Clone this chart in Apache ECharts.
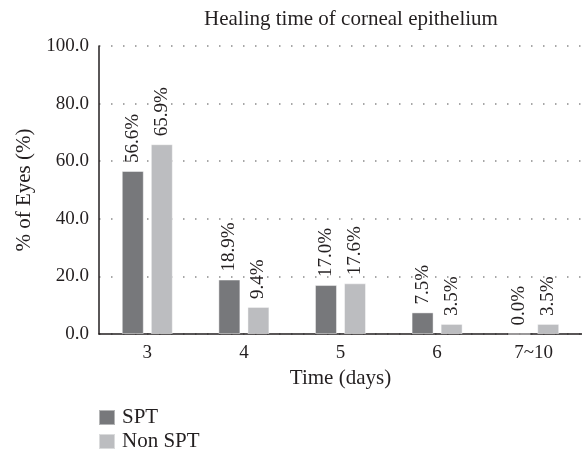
<!DOCTYPE html>
<html>
<head>
<meta charset="utf-8">
<script src="https://cdn.jsdelivr.net/npm/echarts@6/dist/echarts.min.js"></script>
<style>
  html, body { margin: 0; padding: 0; background: #fff; }
  #main { width: 582px; height: 453px; }
</style>
</head>
<body>
<div id="main"></div>
<script>
var days = ['3', '4', '5', '6', '7~10'];
var spt = [56.6, 18.9, 17.0, 7.5, 0.0];
var nonSpt = [65.9, 9.4, 17.6, 3.5, 3.5];
var yTicks = [0, 20, 40, 60, 80, 100];

var font = 'Liberation Serif';
var ink = '#231f20';

var barLabel = {
  show: true,
  position: 'top',
  rotate: 90,
  align: 'left',
  verticalAlign: 'middle',
  distance: 8,
  fontFamily: font,
  fontSize: 19,
  color: ink,
  formatter: function (p) {
    return p.value.toFixed(1) + '%';
  }
};

var myChart = echarts.init(document.getElementById('main'));

var option = {
  animation: false,
  title: {
    text: 'Healing time of corneal epithelium',
    left: 346,
    top: 4,
    textAlign: 'center',
    textStyle: { fontFamily: font, fontSize: 21, fontWeight: 'normal', color: ink }
  },
  legend: {
    orient: 'vertical',
    left: 98,
    top: 407,
    height: 46,
    padding: 0,
    itemWidth: 16,
    itemHeight: 15,
    itemGap: 3,
    icon: 'rect',
    textStyle: { fontFamily: font, fontSize: 21, color: ink, padding: [0, 0, 0, 2] },
    data: ['SPT', 'Non SPT']
  },
  grid: {
    left: 99,
    right: -10,
    top: 46,
    bottom: 119,
    containLabel: false
  },
  xAxis: {
    type: 'category',
    data: days,
    name: 'Time (days)',
    nameLocation: 'middle',
    nameGap: 33,
    nameTextStyle: { fontFamily: font, fontSize: 21, color: ink },
    axisLine: { lineStyle: { color: ink, width: 1.5 } },
    axisTick: { show: false },
    axisLabel: { fontFamily: font, fontSize: 19, color: ink, margin: 10 }
  },
  yAxis: {
    type: 'value',
    min: yTicks[0],
    max: yTicks[yTicks.length - 1],
    interval: 20,
    name: '% of Eyes (%)',
    nameLocation: 'middle',
    nameGap: 63,
    nameTextStyle: { fontFamily: font, fontSize: 21, color: ink },
    axisLine: { show: true, lineStyle: { color: ink, width: 1.5 } },
    axisTick: { show: false },
    axisLabel: {
      fontFamily: font,
      fontSize: 19,
      color: ink,
      margin: 10,
      formatter: function (v) { return v.toFixed(1); }
    },
    splitLine: {
      show: true,
      lineStyle: { color: '#8a8a8a', width: 1.5, type: [1.5, 10.5] }
    }
  },
  series: [
    {
      name: 'SPT',
      type: 'bar',
      data: spt,
      barWidth: 22,
      barGap: '32%',
      itemStyle: { color: '#77787b', borderColor: 'rgba(255,255,255,0.45)', borderWidth: 1 },
      label: barLabel
    },
    {
      name: 'Non SPT',
      type: 'bar',
      data: nonSpt,
      barWidth: 22,
      barGap: '32%',
      itemStyle: { color: '#bcbdc0', borderColor: 'rgba(255,255,255,0.45)', borderWidth: 1 },
      label: barLabel
    }
  ]
};

myChart.setOption(option);
</script>
</body>
</html>
